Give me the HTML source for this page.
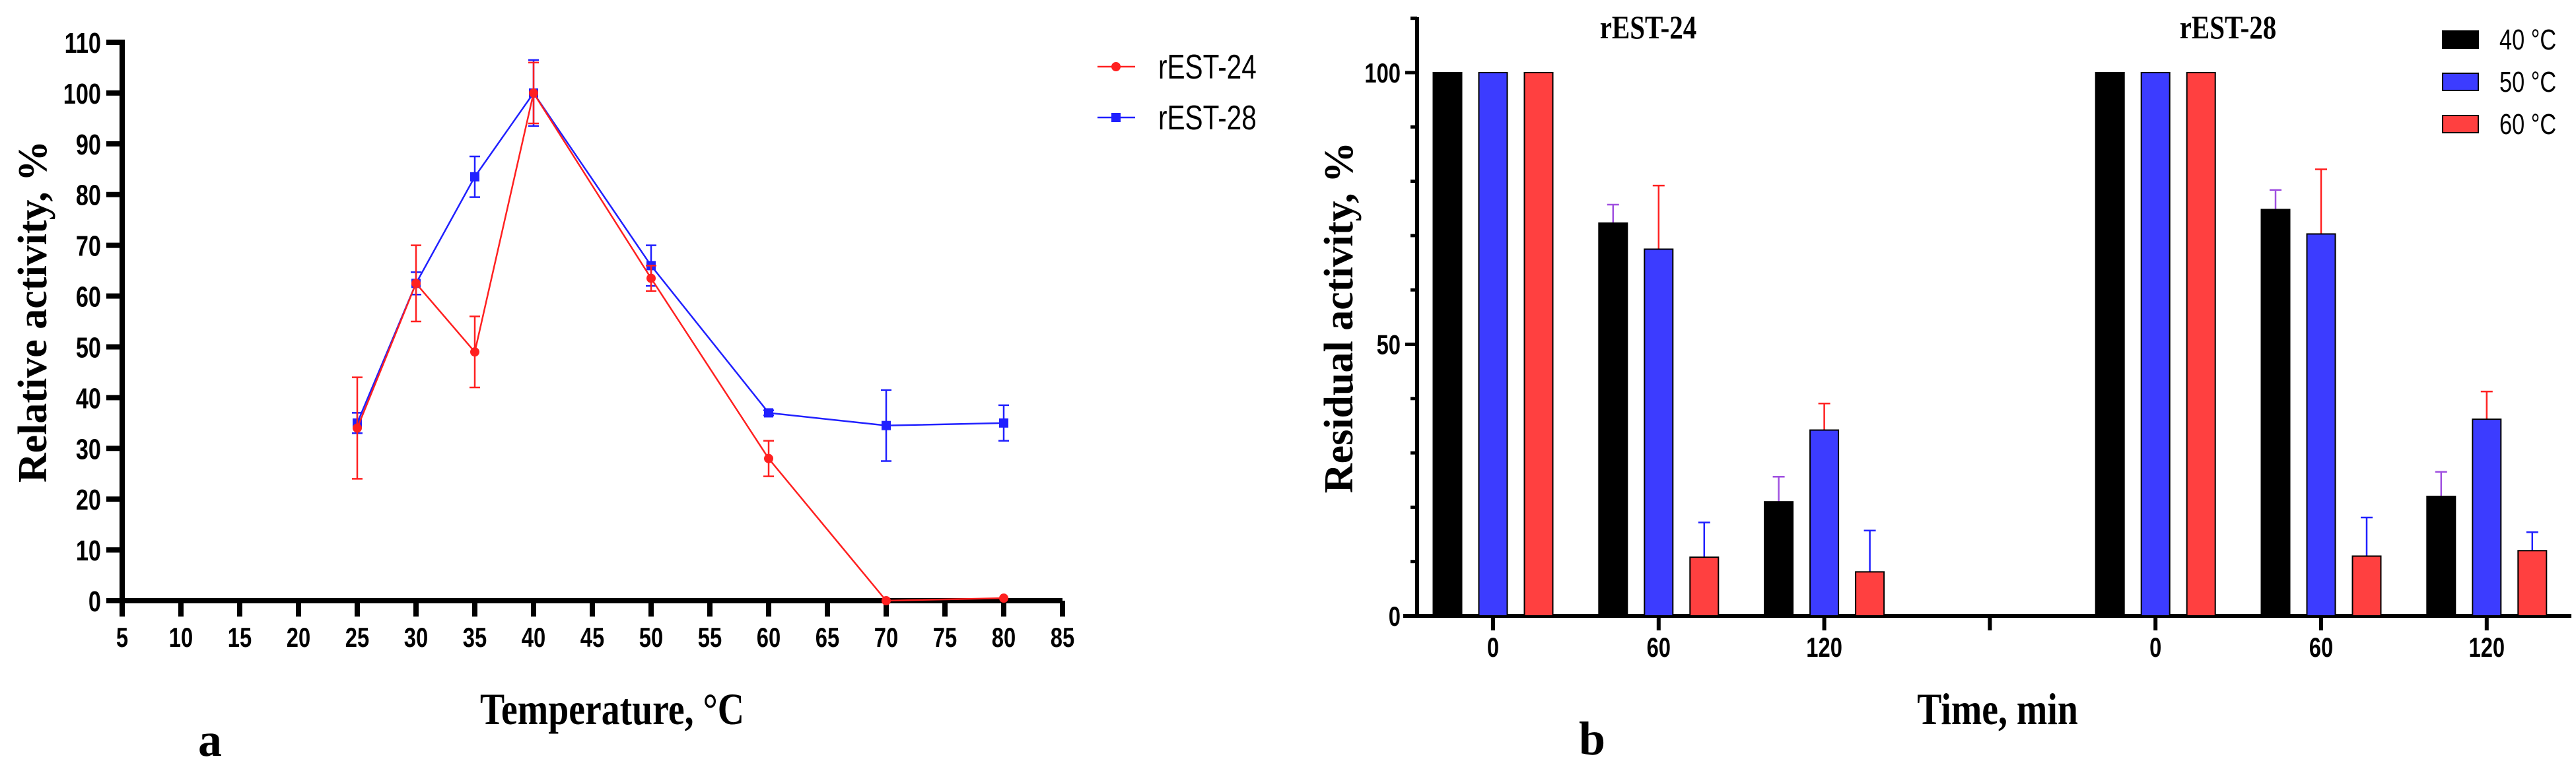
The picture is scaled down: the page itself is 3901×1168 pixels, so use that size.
<!DOCTYPE html>
<html><head><meta charset="utf-8"><style>
html,body{margin:0;padding:0;background:#fff;}
svg{display:block;}
.tick{font-family:"Liberation Sans",sans-serif;font-weight:bold;}
.ser{font-family:"Liberation Serif",serif;font-weight:bold;}
</style></head><body>
<svg id="s" width="3901" height="1168" viewBox="0 0 3901 1168" xmlns="http://www.w3.org/2000/svg">
<g id="ga"></g>
<g id="gb"></g>
<text class="ser" transform="translate(927,1097) scale(0.82,1)" font-size="68" text-anchor="middle">Temperature, °C</text>
<text class="ser" x="318" y="1145" font-size="72" text-anchor="middle">a</text>
<text class="ser" transform="translate(70,472) rotate(-90)" font-size="62" text-anchor="middle">Relative activity, %</text>
<text class="ser" transform="translate(3025,1097) scale(0.82,1)" font-size="68" text-anchor="middle">Time, min</text>
<text class="ser" x="2411" y="1143" font-size="72" text-anchor="middle">b</text>
<text class="ser" transform="translate(2048,481) rotate(-90)" font-size="62" text-anchor="middle">Residual activity, %</text>
<text class="ser" transform="translate(2496,58) scale(0.82,1)" font-size="50" text-anchor="middle">rEST-24</text>
<text class="ser" transform="translate(3374,58) scale(0.82,1)" font-size="50" text-anchor="middle">rEST-28</text>
</svg>
<script>
const NS="http://www.w3.org/2000/svg";
// ---- chart a data
const tempX=[25,30,35,40,50,60,70,80];
const est24=[34,62.5,49,100,63.5,28,0,0.5];
const est24Err=[10,7.5,7,6,2.5,3.5,0,0];
const est28=[35,62.5,83.5,100,66,37,34.5,35];
const est28Err=[2,2.2,4,6.5,4,0.5,7,3.5];
const xTicksA=[5,10,15,20,25,30,35,40,45,50,55,60,65,70,75,80,85];
const yTicksA=[0,10,20,30,40,50,60,70,80,90,100,110];
// ---- chart b data
const timeLabels=["0","60","120","","0","60","120"];
const bar40=[100,72.3,21,null,100,74.8,22];
const bar40Err=[0,3.4,4.6,null,0,3.6,4.5];
const bar50=[100,67.5,34.2,null,100,70.3,36.2];
const bar50Err=[0,11.7,4.9,null,0,11.9,5.1];
const bar60=[100,10.8,8.1,null,100,11,12];
const bar60Err=[0,6.4,7.6,null,0,7.1,3.4];
const yTicksB=[0,50,100];
const legendB=["40 °C","50 °C","60 °C"];

function el(tag,attrs,parent,txt){const e=document.createElementNS(NS,tag);for(const k in attrs)e.setAttribute(k,attrs[k]);if(txt!==undefined)e.textContent=txt;parent.appendChild(e);return e;}
function ct(parent,x,y,size,anchor,txt,bold){
  return el('text',{transform:`translate(${x},${y}) scale(0.78,1)`,'font-size':size,'text-anchor':anchor,class:'tick',style:bold?'':'font-weight:normal'},parent,txt);
}
const ga=document.getElementById('ga'),gb=document.getElementById('gb');
const xa=v=>185+(v-5)*(1609-185)/80;
const ya=v=>910-v*(910-64)/110;
let ax=el('path',{d:`M185,60 V914 M180,910 H1609`,stroke:'#000','stroke-width':8,fill:'none'},ga);

yTicksA.forEach(v=>{
  let t=el('line',{x1:161,x2:185,y1:ya(v),y2:ya(v),stroke:'#000','stroke-width':8},ga);
  
  let l=ct(ga,153,ya(v)+16,44,'end',String(v),true);
  
});
xTicksA.forEach(v=>{
  let t=el('line',{x1:xa(v),x2:xa(v),y1:910,y2:934,stroke:'#000','stroke-width':8},ga);
  
  let l=ct(ga,xa(v),980,42,'middle',String(v),true);
  
});
function series(vals,errs,color,shape,name){
  const g=el('g',{},ga);
  
  let p=el('polyline',{points:tempX.map((x,i)=>xa(x)+','+ya(vals[i])).join(' '),fill:'none',stroke:color,'stroke-width':2.5},g);
  
  tempX.forEach((x,i)=>{
    const cx=xa(x),cy=ya(vals[i]);
    if(errs[i]>0){
      const y1=ya(vals[i]+errs[i]),y2=ya(vals[i]-errs[i]);
      let e=el('path',{d:`M${cx},${y1}V${y2}M${cx-8},${y1}H${cx+8}M${cx-8},${y2}H${cx+8}`,stroke:color,'stroke-width':2.5,fill:'none'},g);
      
    }
    let m=shape==='c'?el('circle',{cx:cx,cy:cy,r:7,fill:color},g):el('rect',{x:cx-7,y:cy-7,width:14,height:14,fill:color},g);
    
  });
}
series(est28,est28Err,'#2020ff','s','series-rest28');
series(est24,est24Err,'#ff2020','c','series-rest24');
[['rEST-24','#ff2020','c',101],['rEST-28','#2020ff','s',178]].forEach(([t,c,s,y])=>{
  const g=el('g',{},ga);
  
  el('line',{x1:1662,x2:1719,y1:y,y2:y,stroke:c,'stroke-width':2.5},g);
  if(s==='c')el('circle',{cx:1690,cy:y,r:7,fill:c},g);else el('rect',{x:1683,y:y-7,width:14,height:14,fill:c},g);
  ct(g,1754,y+18,52,'start',t,false);
});
const yb=v=>933-v*(933-110)/100;
const xb=i=>2261+i*250.8;
let bx=el('path',{d:`M2146,26 V936 M2125,933 H3894`,stroke:'#000','stroke-width':6,fill:'none'},gb);

for(let v=0;v<=110;v+=10){
  let t=el('line',{x1:v%50===0?2128:2136,x2:2146,y1:yb(v),y2:yb(v),stroke:'#000','stroke-width':5},gb);
  
}
yTicksB.forEach(v=>{
  let l=ct(gb,2121,yb(v)+15,42,'end',String(v),true);
  
});
timeLabels.forEach((t,i)=>{
  let k=el('line',{x1:xb(i),x2:xb(i),y1:933,y2:955,stroke:'#000','stroke-width':6},gb);
  
  if(t){let l=ct(gb,xb(i),995,42,'middle',t,true);
  }
});
const barSets=[[bar40,bar40Err,'#000','#a050e0',-69,'bar-40c'],[bar50,bar50Err,'#3c3cff','#ff2020',0,'bar-50c'],[bar60,bar60Err,'#ff4040','#2020ff',69,'bar-60c']];
barSets.forEach(([vals,errs,fill,ec,off,name])=>{
  vals.forEach((v,i)=>{
    if(v===null)return;
    const cx=xb(i)+off,top=yb(v);
    if(errs[i]>0){
      const ye=yb(v+errs[i]);
      let e=el('path',{d:`M${cx},${top}V${ye}M${cx-9},${ye}H${cx+9}`,stroke:ec,'stroke-width':2.5,fill:'none'},gb);
      
    }
    let r=el('rect',{x:cx-21.5,y:top,width:43,height:933-top,fill:fill,stroke:'#000','stroke-width':2},gb);
    
  });
});
legendB.forEach((t,i)=>{
  const fills=['#000','#3c3cff','#ff4040'];
  const g=el('g',{},gb);
  
  el('rect',{x:3699,y:47+i*64,width:54,height:26,fill:fills[i],stroke:'#000','stroke-width':2},g);
  ct(g,3785,75+i*64,44,'start',t,false);
});
</script>
</body></html>
